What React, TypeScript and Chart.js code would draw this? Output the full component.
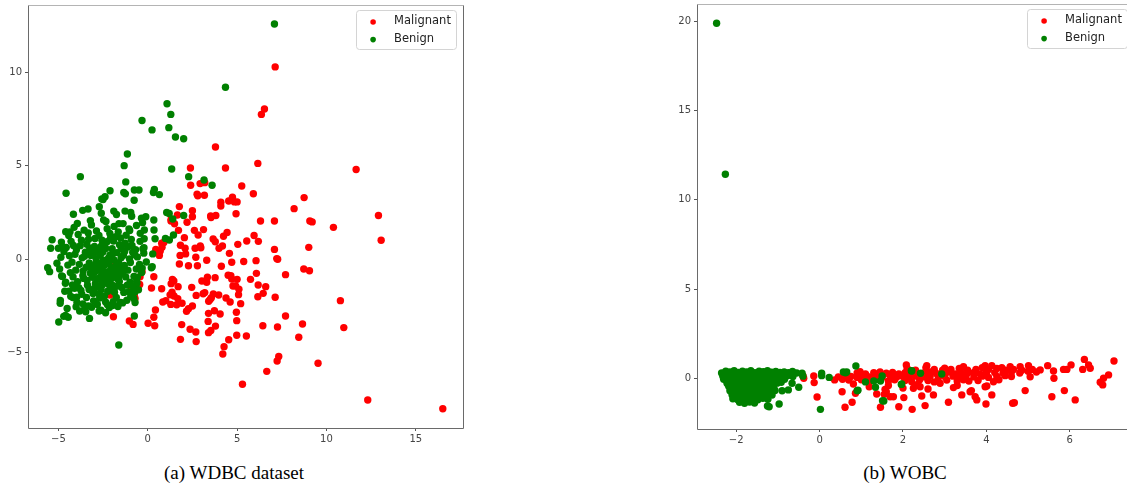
import { useEffect, useRef } from 'react';
import { Chart, registerables } from 'chart.js';

Chart.register(...registerables);

type Pt = [number, number];

const SERIES_LABELS = ['Malignant', 'Benign'];
const SERIES_COLORS = ['#ff0000', '#008000'];

// ---------- (a) WDBC dataset ----------
const wdbcMalignant: Pt[] = [
  [7.13, 10.29], [6.53, 8.04], [6.36, 7.75], [3.79, 6.01], [11.66, 4.8], [6.16, 5.13], [4.35, 4.88], [2.39, 4.88],
  [2.4, 3.96], [2.93, 4.05], [3.19, 4.1], [5.26, 3.92], [5.91, 3.51], [2.76, 3.48], [3.17, 3.43], [2.8, 3.4],
  [8.75, 3.3], [4.74, 3.32], [4.53, 3.12], [4.85, 3.07], [5.0, 3.07], [4.09, 3.05], [4.09, 2.85], [8.19, 2.71],
  [1.77, 2.82], [2.5, 2.6], [1.66, 2.37], [2.5, 2.28], [3.54, 2.23], [3.52, 2.32], [3.81, 2.34], [4.94, 2.44],
  [2.2, 1.98], [1.31, 2.14], [6.31, 2.05], [7.09, 2.05], [9.07, 2.05], [9.2, 2.0], [12.91, 2.34], [10.39, 1.71],
  [1.72, 1.55], [2.61, 1.55], [3.12, 1.59], [2.82, 1.3], [4.44, 1.44], [4.24, 1.23], [5.95, 1.27], [2.05, 1.16],
  [3.66, 1.09], [3.78, 0.94], [5.54, 0.98], [6.19, 0.96], [13.06, 1.02], [0.9, 0.9], [0.78, 0.86], [1.83, 0.75],
  [2.09, 0.59], [2.65, 0.59], [2.94, 0.71], [2.97, 0.62], [5.04, 0.8], [3.99, 0.59], [4.18, 0.71], [7.09, 0.53],
  [9.01, 0.64], [0.45, 0.53], [0.56, 0.37], [0.65, 0.21], [1.81, 0.21], [2.12, 0.29], [2.69, 0.11], [3.3, -0.05],
  [4.57, 0.32], [7.22, 0.04], [7.27, 0.0], [6.06, -0.07], [5.37, -0.12], [1.77, -0.25], [2.28, -0.34], [2.78, -0.34],
  [4.12, -0.37], [4.7, -0.16], [8.73, -0.52], [9.05, -0.61], [6.08, -0.75], [7.71, -0.82], [0.34, -0.93], [4.5, -0.85],
  [4.65, -0.88], [4.7, -1.05], [5.0, -1.07], [3.34, -0.96], [3.77, -0.98], [3.03, -1.16], [3.3, -1.23], [1.38, -1.07],
  [1.46, -1.16], [1.31, -1.3], [-0.45, -1.34], [0.21, -1.53], [0.78, -1.57], [1.7, -1.46], [2.46, -1.5], [4.77, -1.43],
  [4.92, -1.42], [5.75, -1.07], [6.18, -1.37], [6.6, -1.46], [6.46, -1.82], [6.16, -2.0], [7.13, -2.03], [1.36, -1.76],
  [1.25, -1.9], [1.47, -1.96], [1.68, -2.1], [0.84, -2.28], [1.01, -2.21], [1.29, -2.41], [1.62, -2.43], [1.92, -2.35],
  [2.71, -1.93], [3.1, -1.84], [3.19, -1.78], [3.67, -1.85], [3.97, -1.91], [3.56, -2.05], [3.41, -2.24], [3.49, -2.15],
  [4.38, -2.07], [4.61, -2.28], [5.1, -1.6], [5.08, -1.89], [5.2, -2.37], [10.78, -2.21], [2.28, -2.64], [2.17, -2.78],
  [2.5, -2.5], [3.73, -2.75], [4.05, -2.92], [3.4, -2.89], [4.96, -2.83], [7.71, -3.03], [0.43, -2.71], [0.34, -3.1],
  [0.39, -3.55], [0.02, -3.42], [-1.03, -3.3], [-0.82, -3.48], [-1.92, -3.07], [1.9, -3.49], [2.37, -3.74], [2.69, -3.89],
  [2.71, -4.4], [1.83, -4.28], [3.38, -3.32], [3.4, -3.92], [3.53, -3.81], [3.79, -3.57], [4.98, -3.28], [6.44, -3.55],
  [7.26, -3.62], [8.66, -3.46], [10.97, -3.65], [4.98, -4.06], [5.52, -4.1], [4.53, -4.3], [4.27, -4.67], [4.2, -5.06],
  [8.45, -4.17], [7.33, -5.2], [7.24, -5.44], [6.66, -5.99], [9.53, -5.56], [5.3, -6.68], [12.31, -7.52], [16.51, -7.99],
  [-0.93, -1.64], [-0.65, -1.41], [-0.43, -0.93], [-0.32, -0.66], [-2.11, -1.91], [-1.92, -0.39], [-0.75, -1.95],
  [-0.71, -2.09], [-1.96, -0.5], [0.7, 0.45], [0.8, 0.65], [1.0, 1.05], [1.5, 1.9], [1.3, 2.05],
];

const wdbcBenign: Pt[] = [
  [7.09, 12.58], [4.35, 9.2], [1.08, 8.32], [1.29, 7.75], [-0.32, 7.42], [1.18, 7.04], [0.24, 6.92], [1.55, 6.54],
  [2.01, 6.45], [-1.14, 5.63], [-1.32, 5.01], [1.34, 4.83], [2.29, 4.42], [3.15, 4.24], [3.6, 3.96], [-3.77, 4.42],
  [-4.57, 3.53], [-1.23, 4.14], [-2.11, 3.67], [-2.39, 3.35], [-2.5, 3.2], [-0.75, 3.71], [-0.49, 3.71], [-1.34, 3.57],
  [-1.25, 3.5], [-0.76, 3.16], [0.37, 3.74], [0.32, 3.57], [0.65, 3.46], [-2.57, 3.23], [-4.16, 2.41], [-3.64, 2.62],
  [-3.34, 2.69], [-2.71, 2.81], [-2.6, 2.46], [-1.9, 2.58], [-1.75, 2.4], [-1.27, 2.58], [-0.95, 2.5], [-0.9, 2.3],
  [-0.11, 2.28], [-0.35, 2.2], [0.34, 2.1], [1.06, 2.5], [2.01, 2.34], [1.4, 2.16], [1.2, 2.45], [-4.59, 1.48],
  [-5.35, 1.05], [-5.43, 0.59], [-5.0, 0.59], [-5.6, -0.45], [-5.49, -0.66], [-0.19, 1.57], [0.35, 1.57], [0.41, 1.1],
  [-0.2, 1.1], [0.99, 1.12], [1.21, 1.03], [1.44, 1.3], [0.28, 0.29], [0.25, -0.4], [0.2, -0.45], [-4.98, -3.35],
  [-4.6, -3.0], [-4.45, -3.1], [-4.7, -3.05], [-3.26, -3.16], [-4.01, -2.53], [-4.89, -2.2], [-4.9, -2.35], [-1.62, -4.58],
  [-0.75, -3.03], [-0.78, -2.09], [-0.21, 0.62], [-0.08, -0.14], [-0.31, -0.47], [-5.08, -0.21], [-4.83, 0.92],
  [-3.12, 0.47], [-2.58, -0.83], [-1.94, 0.31], [-4.21, -1.37], [-2.87, 1.52], [-1.36, -0.62], [-3.67, 0.08], [-2.24, -1.71],
  [-0.88, 0.74], [-4.56, 0.63], [-2.71, -0.21], [-1.52, 1.14], [-3.43, -2.04], [-2.05, -0.46], [-0.61, -1.28], [-3.89, 1.33],
  [-2.39, 0.86], [-1.17, -2.19], [-4.03, -0.58], [-2.93, -1.29], [-1.71, -1.03], [-3.31, 1.07], [-0.97, -0.17], [-2.47, 2.11],
  [-4.77, -0.92], [-3.58, -1.02], [-1.88, 1.76], [-2.66, 0.22], [-1.29, 0.42], [-3.96, -2.31], [-2.15, -2.58], [-0.43, 0.96],
  [-3.21, -0.74], [-1.63, -0.18], [-4.38, 0.19], [-2.82, -2.41], [-1.05, 1.63], [-3.74, -1.66], [-2.31, -1.12], [-0.77, -0.91],
  [-4.12, 1.71], [-2.98, 0.69], [-1.45, -1.51], [-3.49, 0.38], [-2.12, 1.38], [-0.58, 0.13], [-4.64, -1.71], [-3.06, -1.83],
  [-1.84, -0.71], [-2.56, 1.02], [-1.23, -0.94], [-3.83, -0.27], [-2.42, -1.96], [-0.92, 1.06], [-4.29, 0.96], [-3.37, -1.38],
  [-1.97, -1.38], [-2.76, -0.58], [-1.58, 0.78], [-3.15, 1.84], [-0.71, -2.31], [-4.47, -0.31], [-2.19, 0.07], [-1.38, 1.91],
  [-3.62, -0.63], [-2.61, -1.61], [-1.07, -1.74], [-3.99, 0.51], [-2.89, 0.03], [-1.76, -2.04], [-0.34, -0.71], [-4.86, 0.11],
  [-3.27, -0.19], [-2.03, -0.92], [-1.49, 0.09], [-3.71, 1.02], [-2.35, 0.58], [-1.12, 0.66], [-4.18, -0.94], [-2.78, -1.02],
  [-1.67, -2.52], [-0.84, 0.38], [-3.52, -2.63], [-2.27, 1.64], [-1.31, -0.33], [-4.42, 1.28], [-3.03, -2.22], [-1.92, 0.98],
  [-2.64, -0.37], [-0.52, -1.63], [-3.86, -1.52], [-2.51, 0.39], [-1.59, -1.19], [-3.18, 0.21], [-2.08, -1.58], [-0.99, -1.23],
  [-4.59, -1.22], [-3.41, 0.81], [-1.81, -0.38], [-2.73, 1.28], [-1.21, 1.29], [-3.97, -2.02], [-2.44, -0.74], [-0.68, 0.51],
  [-4.31, -1.98], [-3.09, -0.96], [-1.99, 0.57], [-2.69, -2.07], [-1.41, -2.33], [-3.56, 1.56], [-0.46, -0.28], [-4.07, 0.27],
  [-2.84, -0.51], [-1.72, 0.36], [-3.28, -1.61], [-2.17, -0.19], [-1.02, 0.02], [-3.78, 0.73], [-2.53, -1.36], [-1.34, -1.77],
  [-4.69, 0.42], [-2.95, 1.11], [-1.86, -1.76], [-3.45, -0.42], [-2.28, 0.94], [-0.81, -1.47], [-4.24, -0.15], [-3.14, -2.56],
  [-1.65, 1.47], [-2.59, 0.71], [-1.11, -0.58], [-3.63, -0.88], [-2.36, -2.28], [-0.64, -0.52], [-4.51, -2.63], [-3.33, 1.41],
  [-1.93, -2.27], [-2.81, 0.48], [-1.53, -0.79], [-3.92, -1.19], [-2.22, -0.66], [-1.26, 0.86], [-4.16, 0.74], [-2.99, -1.56],
  [-1.79, 1.21], [-2.62, -2.72], [-0.95, -1.98], [-3.54, 0.16], [-2.11, 0.23], [-1.44, -0.46], [-3.81, -2.76], [-2.48, -0.05],
  [-1.15, -1.38], [-4.33, -0.71], [-3.24, 0.59], [-1.89, -0.04], [-2.74, -1.84], [-1.62, -0.97], [-3.69, -1.87], [-2.32, -0.88],
  [-0.74, 0.24], [-4.09, -1.55], [-2.91, -0.25], [-1.74, -1.44], [-3.39, -1.13], [-2.09, 1.11], [-1.36, 0.22], [-3.01, 0.35],
  [-2.57, -1.19], [-1.48, 0.58], [-2.41, -0.31], [-2.97, -0.69], [-2.18, -1.34], [-1.69, -0.57], [-2.63, -0.98], [-3.19, -0.41],
  [-1.97, -0.66], [-2.51, -0.61], [-2.83, -1.45], [-2.07, -1.07], [-3.94, 1.92], [-3.21, 2.07], [-2.34, 2.02], [-1.61, 1.91],
  [-0.63, 1.81], [-0.29, 1.96], [-4.35, 1.47], [-1.01, 1.54], [-0.42, 1.39], [-4.76, 0.68], [-0.27, 0.56], [-0.22, 0.33],
  [-4.93, -0.52], [-4.82, -0.89], [-4.61, -1.28], [-4.41, -1.7], [-0.58, -0.95], [-0.62, -1.17], [-0.72, -1.75], [-4.19, -2.04],
  [-3.63, -2.38], [-3.32, -2.49], [-2.26, -2.42], [-1.97, -2.47], [-1.52, -2.3], [-3.47, -2.81], [-2.72, -2.76], [-2.36, -2.86],
];

const wdbcXRange: Pt = [-6.7, 17.64];
const wdbcYRange: Pt = [-9.02, 13.6];
const wdbcXTicks = [-5, 0, 5, 10, 15];
const wdbcYTicks = [-5, 0, 5, 10];

// ---------- (b) WOBC ----------
const wobcMalignant: Pt[] = [
  [-0.38, 0.0], [-0.4, 0.15], [-0.14, 0.13], [-0.13, -0.24], [-0.06, -1.05], [0.36, -0.09], [0.54, -0.75], [0.61, -1.62],
  [0.78, -1.34], [0.81, -0.32], [0.86, -0.84], [0.97, 0.37], [1.19, -0.47], [1.37, -0.88], [1.46, -1.62], [1.57, -0.62],
  [1.69, -1.03], [1.77, -1.03], [1.9, -1.59], [2.02, -1.08], [2.08, 0.75], [2.22, -1.74], [2.25, -0.56], [2.45, -0.99],
  [2.53, -1.53], [2.57, 0.71], [2.73, -0.93], [2.89, -0.28], [3.0, 0.56], [3.09, -1.34], [3.21, -0.52], [3.41, -0.93],
  [3.45, 0.65], [3.58, -0.15], [3.64, -0.69], [3.77, -1.21], [3.97, -0.47], [3.99, -1.44], [3.97, 0.71], [4.13, 0.71],
  [4.13, -0.93], [4.17, -0.19], [4.37, 0.6], [4.57, 0.65], [4.63, -1.4], [4.67, -1.37], [4.81, 0.65], [4.93, -0.69],
  [5.01, 0.71], [5.05, 0.09], [5.29, 0.47], [5.47, 0.71], [5.57, -1.03], [5.61, 0.41], [5.62, 0.0], [5.85, 0.5],
  [5.87, -0.69], [5.93, 0.5], [6.03, 0.75], [6.13, -1.21], [6.31, 0.5], [6.35, 1.06], [6.45, 0.75], [6.49, 0.56],
  [6.73, -0.22], [6.79, -0.37], [6.81, 0.0], [6.93, 0.19], [7.06, 0.97], [2.21, -0.19], [2.41, -0.47], [3.61, -0.75],
  [3.73, -1.03], [4.01, -0.43], [1.6, -0.75], [1.55, -0.9], [1.65, -0.4], [2.0, -0.55], [2.35, -0.35], [2.6, -0.6],
  [2.75, -0.2], [3.3, -0.4],
  [2.1, 0.55], [2.3, 0.45], [2.55, 0.6], [2.75, 0.5], [2.95, 0.45], [3.15, 0.5], [3.35, 0.55], [3.55, 0.45],
  [3.75, 0.5], [3.9, 0.6], [4.05, 0.5], [4.25, 0.55], [4.45, 0.45], [4.65, 0.5], [4.85, 0.45], [5.1, 0.5],
  [0.9, 0.3], [1.1, 0.25], [1.3, 0.32], [1.45, 0.35], [1.6, 0.28], [1.75, 0.33], [1.9, 0.25], [2.05, 0.32],
  [2.2, 0.28], [2.35, 0.22], [2.5, 0.3], [2.65, 0.35], [2.8, 0.27], [2.95, 0.3], [3.1, 0.35], [3.25, 0.25],
  [3.4, 0.3], [3.55, 0.28], [3.7, 0.33], [3.85, 0.25], [4.0, 0.3], [4.2, 0.32], [4.4, 0.28], [4.6, 0.35],
  [4.8, 0.3], [5.0, 0.4], [5.2, 0.35],
  [0.45, 0.08], [0.6, 0.12], [0.75, 0.1], [0.9, 0.05], [1.05, 0.12], [1.2, 0.08], [1.35, 0.1], [1.5, 0.05],
  [1.7, 0.12], [1.85, 0.08], [2.0, 0.1], [2.15, 0.05], [2.3, 0.12], [2.5, 0.08], [2.65, 0.12], [2.85, 0.05],
  [3.0, 0.1], [3.2, 0.12], [3.35, 0.05], [3.5, 0.1], [3.7, 0.08], [3.9, 0.12], [4.05, 0.05], [4.25, 0.1],
  [4.45, 0.15], [4.6, 0.1],
  [0.55, -0.05], [0.7, -0.1], [1.0, -0.08], [1.2, -0.12], [1.4, -0.05], [1.65, -0.15], [1.8, -0.08], [2.05, -0.12],
  [2.4, -0.08], [2.6, -0.12], [3.05, -0.1], [3.3, -0.15], [3.45, -0.08], [3.8, -0.12], [4.3, -0.08],
];

const wobcBenign: Pt[] = [
  [-2.47, 19.89], [-2.26, 11.43],
  [-1.21, -1.59], [-0.97, -1.44], [-1.25, -1.55], [-0.9, -0.7], [-0.75, -0.65], [-0.5, -0.5], [-0.66, -0.28],
  [0.02, -1.74], [0.87, 0.69], [0.23, 0.05], [0.05, 0.28], [0.05, 0.15], [0.57, 0.35], [0.62, 0.31], [0.65, 0.35],
  [1.1, -0.2], [1.3, -0.15], [1.46, -0.15], [1.34, -0.5], [0.9, -0.7], [0.92, -0.67], [1.51, -1.26], [1.54, -1.27],
  [1.5, 0.13], [1.97, -0.32], [1.96, -0.34], [2.2, 0.43], [2.21, 0.41], [2.42, 0.28], [2.93, 0.24], [-0.42, 0.28],
  [-0.4, 0.12],
  [-2.35, 0.3], [-2.25, 0.4], [-2.15, 0.35], [-2.05, 0.42], [-1.95, 0.33], [-1.85, 0.4], [-1.75, 0.36], [-1.65, 0.42],
  [-1.55, 0.32], [-1.45, 0.4], [-1.35, 0.37], [-1.25, 0.43], [-1.15, 0.34], [-1.05, 0.38], [-0.95, 0.33], [-0.85, 0.36],
  [-0.75, 0.32], [-0.65, 0.38], [-0.55, 0.3],
  [-2.32, 0.12], [-2.2, 0.18], [-2.08, 0.1], [-1.96, 0.2], [-1.84, 0.14], [-1.72, 0.19], [-1.6, 0.1], [-1.48, 0.17],
  [-1.36, 0.12], [-1.24, 0.2], [-1.12, 0.13], [-1.0, 0.18], [-0.88, 0.12], [-0.76, 0.16], [-0.64, 0.1],
  [-2.3, -0.05], [-2.18, 0.02], [-2.06, -0.08], [-1.94, 0.0], [-1.82, -0.06], [-1.7, 0.03], [-1.58, -0.07], [-1.46, 0.01],
  [-1.34, -0.04], [-1.22, 0.02], [-1.1, -0.08], [-0.98, -0.02], [-0.84, -0.05],
  [-2.22, -0.28], [-2.1, -0.22], [-1.98, -0.3], [-1.86, -0.2], [-1.74, -0.27], [-1.62, -0.23], [-1.5, -0.3], [-1.38, -0.21],
  [-1.26, -0.29], [-1.14, -0.24], [-1.02, -0.27], [-0.92, -0.22],
  [-2.18, -0.45], [-2.06, -0.5], [-1.94, -0.42], [-1.82, -0.48], [-1.7, -0.44], [-1.58, -0.5], [-1.46, -0.43], [-1.34, -0.47],
  [-1.22, -0.42], [-1.1, -0.5],
  [-2.15, -0.7], [-2.03, -0.65], [-1.91, -0.73], [-1.79, -0.66], [-1.67, -0.71], [-1.55, -0.68], [-1.43, -0.74], [-1.31, -0.66],
  [-1.19, -0.72], [-1.07, -0.68],
  [-2.1, -0.92], [-1.98, -0.98], [-1.86, -0.9], [-1.74, -0.96], [-1.62, -0.91], [-1.5, -0.97], [-1.38, -0.93], [-1.26, -0.99],
  [-1.14, -0.94],
  [-2.08, -1.15], [-1.96, -1.2], [-1.84, -1.13], [-1.72, -1.18], [-1.6, -1.14], [-1.48, -1.2], [-1.36, -1.12], [-1.24, -1.17],
  [-1.92, -1.34], [-1.8, -1.4], [-1.68, -1.33], [-1.56, -1.38],
];

const wobcXRange: Pt = [-2.94, 7.54];
const wobcYRange: Pt = [-2.84, 20.97];
const wobcXTicks = [-2, 0, 2, 4, 6];
const wobcYTicks = [0, 5, 10, 15, 20];

const CAPTIONS = ['(a) WDBC dataset', '(b) WOBC'];

const fmt = (v: number) => (v < 0 ? '\u2212' + Math.abs(v) : String(v));

const framePlugin = {
  id: 'mplFrame',
  beforeDatasetsDraw(chart: any) {
    const { ctx, chartArea } = chart;
    const l = Math.round(chartArea.left) + 0.5;
    const r = Math.round(chartArea.right) + 0.5;
    const t = Math.round(chartArea.top) + 0.5;
    const b = Math.round(chartArea.bottom) + 0.5;
    ctx.save();
    ctx.lineWidth = 1;
    ctx.strokeStyle = '#b4b4b4';
    ctx.beginPath();
    ctx.moveTo(l, t);
    ctx.lineTo(r, t);
    ctx.stroke();
    ctx.strokeStyle = '#6a6a6a';
    ctx.beginPath();
    ctx.moveTo(l, t);
    ctx.lineTo(l, b);
    ctx.lineTo(r, b);
    ctx.lineTo(r, t);
    ctx.stroke();
    ctx.restore();
  },
};

const legendPlugin = {
  id: 'mplLegend',
  afterDraw(chart: any) {
    const { ctx, chartArea } = chart;
    const w = 100;
    const h = 39;
    const x = chartArea.right - 6.5 - w;
    const y = chartArea.top + 5.5;
    ctx.save();
    ctx.beginPath();
    (ctx as any).roundRect(x, y, w, h, 3);
    ctx.fillStyle = 'rgba(255,255,255,0.85)';
    ctx.fill();
    ctx.strokeStyle = '#d4d4d4';
    ctx.lineWidth = 1;
    ctx.stroke();
    chart.data.datasets.forEach((ds: any, i: number) => {
      const cy = y + 11.5 + i * 17.6;
      ctx.beginPath();
      ctx.arc(x + 16.6, cy, 2.8, 0, Math.PI * 2);
      ctx.fillStyle = ds.backgroundColor;
      ctx.fill();
      ctx.fillStyle = '#222';
      ctx.font = '11.5px "DejaVu Sans"';
      ctx.textBaseline = 'middle';
      ctx.textAlign = 'left';
      ctx.fillText(ds.label, x + 37.6, cy - 1);
    });
    ctx.restore();
  },
};

type PanelProps = {
  malignant: Pt[];
  benign: Pt[];
  xRange: Pt;
  yRange: Pt;
  xTicks: number[];
  yTicks: number[];
  left: number;
  width: number;
  height: number;
  yAxisW: number;
  padTop: number;
  padRight: number;
  bottom: number;
};

function ScatterPanel(p: PanelProps) {
  const ref = useRef<HTMLCanvasElement | null>(null);
  useEffect(() => {
    if (!ref.current) return;
    const tickFont = { family: '"DejaVu Sans"', size: 10 };
    const axisCommon = {
      type: 'linear' as const,
      grid: { display: true, drawOnChartArea: false, drawTicks: true, tickLength: 3, color: '#555', lineWidth: 1 },
      border: { display: false },
    };
    const chart = new Chart(ref.current, {
      type: 'scatter',
      data: {
        datasets: [
          {
            label: SERIES_LABELS[0],
            data: p.malignant.map(([x, y]) => ({ x, y })),
            backgroundColor: SERIES_COLORS[0],
            order: 1,
          },
          {
            label: SERIES_LABELS[1],
            data: p.benign.map(([x, y]) => ({ x, y })),
            backgroundColor: SERIES_COLORS[1],
            order: 0,
          },
        ],
      },
      options: {
        animation: false,
        responsive: false,
        devicePixelRatio: 1,
        events: [],
        layout: { padding: { left: 0, top: p.padTop, right: p.padRight, bottom: 0 } },
        elements: { point: { radius: 3.7, hoverRadius: 3.7, borderWidth: 0 } },
        plugins: { legend: { display: false }, tooltip: { enabled: false } },
        scales: {
          x: {
            ...axisCommon,
            min: p.xRange[0],
            max: p.xRange[1],
            afterBuildTicks: (s: any) => {
              s.ticks = p.xTicks.map((v) => ({ value: v }));
            },
            afterFit: (s: any) => {
              s.height = p.height - p.bottom;
              s.paddingLeft = 0;
              s.paddingRight = 0;
              s.paddingTop = 0;
              s.paddingBottom = 0;
            },
            ticks: {
              font: tickFont,
              color: '#444',
              padding: 2,
              maxRotation: 0,
              autoSkip: false,
              callback: (v: any) => fmt(Number(v)),
            },
          },
          y: {
            ...axisCommon,
            min: p.yRange[0],
            max: p.yRange[1],
            afterBuildTicks: (s: any) => {
              s.ticks = p.yTicks.map((v) => ({ value: v }));
            },
            afterFit: (s: any) => {
              s.width = p.yAxisW;
              s.paddingLeft = 0;
              s.paddingRight = 0;
              s.paddingTop = 0;
              s.paddingBottom = 0;
            },
            ticks: {
              font: tickFont,
              color: '#444',
              padding: 3,
              autoSkip: false,
              callback: (v: any) => fmt(Number(v)),
            },
          },
        },
      },
      plugins: [framePlugin, legendPlugin],
    } as any);
    return () => chart.destroy();
  }, []);
  return (
    <canvas
      ref={ref}
      width={p.width}
      height={p.height}
      style={{ position: 'absolute', left: p.left, top: 0, width: p.width, height: p.height }}
    />
  );
}

const captionStyle = (cx: number): React.CSSProperties => ({
  position: 'absolute',
  left: cx - 150,
  top: 462,
  width: 300,
  textAlign: 'center',
  fontFamily: '"Liberation Serif", "Times New Roman", serif',
  fontSize: 19,
  lineHeight: '22px',
  color: '#000',
});

export default function App() {
  return (
    <div
      style={{
        position: 'fixed',
        left: 0,
        top: 0,
        width: 1127,
        height: 489,
        overflow: 'hidden',
        background: '#fff',
      }}
    >
      <ScatterPanel
        malignant={wdbcMalignant}
        benign={wdbcBenign}
        xRange={wdbcXRange}
        yRange={wdbcYRange}
        xTicks={wdbcXTicks}
        yTicks={wdbcYTicks}
        left={0}
        width={470}
        height={450}
        yAxisW={28}
        padTop={5}
        padRight={7}
        bottom={428}
      />
      <ScatterPanel
        malignant={wobcMalignant}
        benign={wobcBenign}
        xRange={wobcXRange}
        yRange={wobcYRange}
        xTicks={wobcXTicks}
        yTicks={wobcYTicks}
        left={660}
        width={480}
        height={450}
        yAxisW={37}
        padTop={4}
        padRight={6}
        bottom={429}
      />
      <div style={captionStyle(234)}>{CAPTIONS[0]}</div>
      <div style={captionStyle(905)}>{CAPTIONS[1]}</div>
    </div>
  );
}
